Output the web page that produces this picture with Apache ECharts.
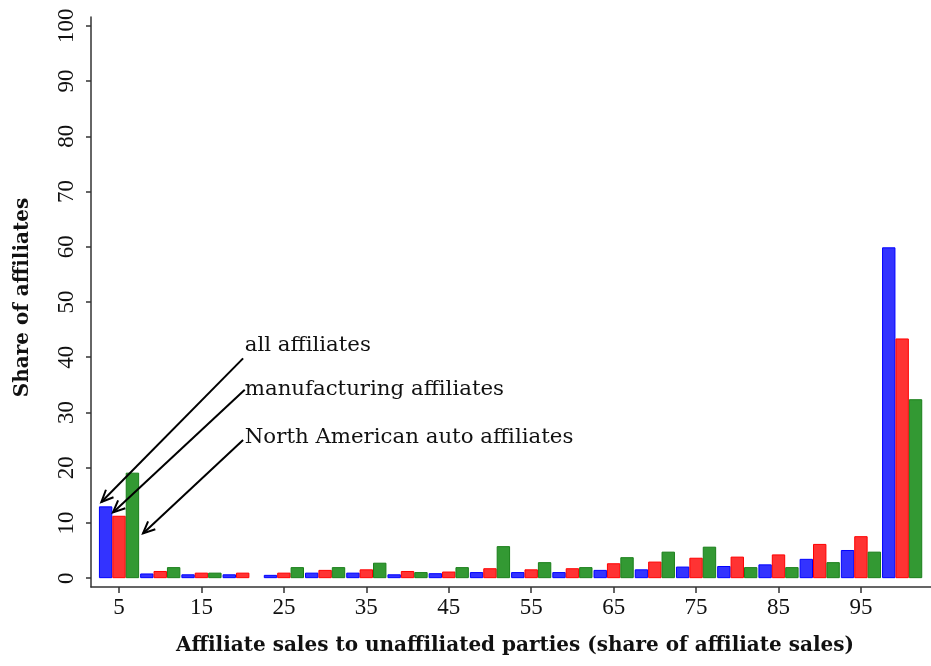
<!DOCTYPE html>
<html>
<head>
<meta charset="utf-8">
<script src="https://cdn.jsdelivr.net/npm/echarts@6/dist/echarts.min.js"></script>
<style>
  html, body { margin: 0; padding: 0; background: #fff; }
  #chart { width: 931px; height: 666px; }
</style>
</head>
<body>
<div id="chart"></div>
<script>
// Bin centres of affiliate sales to unaffiliated parties (share of affiliate sales, 5-point bins)
const binCenters = [5, 10, 15, 20, 25, 30, 35, 40, 45, 50, 55, 60, 65, 70, 75, 80, 85, 90, 95, 100];

// Share of affiliates in each bin (percent)
const allAffiliates = [13.0, 0.85, 0.7, 0.7, 0.6, 1.0, 1.0, 0.7, 0.9, 1.1, 1.1, 1.1, 1.5, 1.6, 2.1, 2.2, 2.5, 3.5, 5.1, 59.9];
const manufacturingAffiliates = [11.3, 1.3, 1.0, 1.0, 1.0, 1.5, 1.6, 1.3, 1.2, 1.8, 1.6, 1.8, 2.7, 3.0, 3.7, 3.9, 4.3, 6.2, 7.6, 43.4];
const autoAffiliates = [19.1, 2.0, 1.0, 0, 2.0, 2.0, 2.8, 1.1, 2.0, 5.8, 2.9, 2.0, 3.8, 4.8, 5.7, 2.0, 2.0, 2.9, 4.8, 32.4];

// Axis tick labels
const xTicks = [5, 15, 25, 35, 45, 55, 65, 75, 85, 95];
const yTicks = [0, 10, 20, 30, 40, 50, 60, 70, 80, 90, 100];

// Callout labels: text anchor (x, y) and arrow from (x0, y0) to tip (x1, y1), in data units
const calloutText = ['all affiliates', 'manufacturing affiliates', 'North American auto affiliates'];
const calloutTextPos = [[20.25, 42.2], [20.25, 34.2], [20.25, 25.4]];
const calloutArrows = [
  [20.05, 39.8, 2.86, 13.8],
  [20.25, 34.1, 4.27, 11.9],
  [20.05, 25.0, 7.91, 8.1]
];

const TICK_FONT = '"Liberation Serif", "Times New Roman", serif';
const TEXT_FONT = '"DejaVu Serif", serif';
const AXIS_COLOR = '#333';

const pairs = ys => binCenters.map((x, i) => ({
  value: [x, ys[i]],
  itemStyle: ys[i] === 0 ? { borderWidth: 0 } : undefined
}));

function barSeries(name, ys, fill, border) {
  return {
    name: name,
    type: 'bar',
    data: pairs(ys),
    barWidth: 13.4,
    barGap: '0%',
    itemStyle: { color: fill, borderColor: border, borderWidth: 1 },
    emphasis: { disabled: true },
    silent: true
  };
}

const chart = echarts.init(document.getElementById('chart'), null, { renderer: 'canvas' });

chart.setOption({
  animation: false,
  backgroundColor: '#fff',
  grid: { left: 91, right: 0, top: 17, bottom: 79, containLabel: false, outerBoundsMode: 'none' },
  xAxis: {
    type: 'value',
    min: 1.6,
    max: 103.5,
    name: 'Affiliate sales to unaffiliated parties (share of affiliate sales)',
    nameLocation: 'middle',
    nameGap: 49,
    nameTextStyle: { fontFamily: TEXT_FONT, fontSize: 20, fontWeight: 'bold', color: '#111', padding: [0, 0, 0, 8] },
    axisLine: { show: true, onZero: false, lineStyle: { color: AXIS_COLOR, width: 1.5 } },
    axisTick: { show: true, length: 6, customValues: xTicks, lineStyle: { color: AXIS_COLOR, width: 1.5 } },
    axisLabel: { customValues: xTicks, margin: 9, fontFamily: TICK_FONT, fontSize: 23, color: '#111' },
    splitLine: { show: false }
  },
  yAxis: {
    type: 'value',
    min: -1.6,
    max: 101.6,
    name: 'Share of affiliates',
    nameLocation: 'middle',
    nameGap: 58,
    nameTextStyle: { fontFamily: TEXT_FONT, fontSize: 20, fontWeight: 'bold', color: '#111', padding: [0, 0, 0, 9] },
    axisLine: { show: true, onZero: false, lineStyle: { color: AXIS_COLOR, width: 1.5 } },
    axisTick: { show: true, length: 5, customValues: yTicks, lineStyle: { color: AXIS_COLOR, width: 1.5 } },
    axisLabel: { customValues: yTicks, rotate: 90, margin: 13, fontFamily: TICK_FONT, fontSize: 23, color: '#111' },
    splitLine: { show: false }
  },
  series: [
    barSeries('all affiliates', allAffiliates, '#3333ff', '#0000ff'),
    barSeries('manufacturing affiliates', manufacturingAffiliates, '#ff3333', '#ff0000'),
    barSeries('North American auto affiliates', autoAffiliates, '#339933', '#1a7f1a'),
    {
      type: 'custom',
      silent: true,
      data: calloutArrows.map((a, i) => [a[0], a[1], a[2], a[3], calloutTextPos[i][0], calloutTextPos[i][1], i]),
      renderItem: function (params, api) {
        const p0 = api.coord([api.value(0), api.value(1)]);
        const p1 = api.coord([api.value(2), api.value(3)]);
        const pt = api.coord([api.value(4), api.value(5)]);
        const idx = api.value(6);
        const ang = Math.atan2(p0[1] - p1[1], p0[0] - p1[0]);
        const headLen = 13, spread = 0.42;
        const h1 = [p1[0] + headLen * Math.cos(ang + spread), p1[1] + headLen * Math.sin(ang + spread)];
        const h2 = [p1[0] + headLen * Math.cos(ang - spread), p1[1] + headLen * Math.sin(ang - spread)];
        const stroke = { stroke: '#000', lineWidth: 2, fill: null };
        return {
          type: 'group',
          children: [
            { type: 'line', shape: { x1: p0[0], y1: p0[1], x2: p1[0], y2: p1[1] }, style: stroke },
            { type: 'polyline', shape: { points: [h1, p1, h2] }, style: stroke },
            {
              type: 'text', x: pt[0], y: pt[1],
              style: {
                text: calloutText[idx], fontFamily: TEXT_FONT, fontSize: 21.3, fill: '#111',
                align: 'left', verticalAlign: 'middle'
              }
            }
          ]
        };
      },
      z: 5
    }
  ]
});
</script>
</body>
</html>
